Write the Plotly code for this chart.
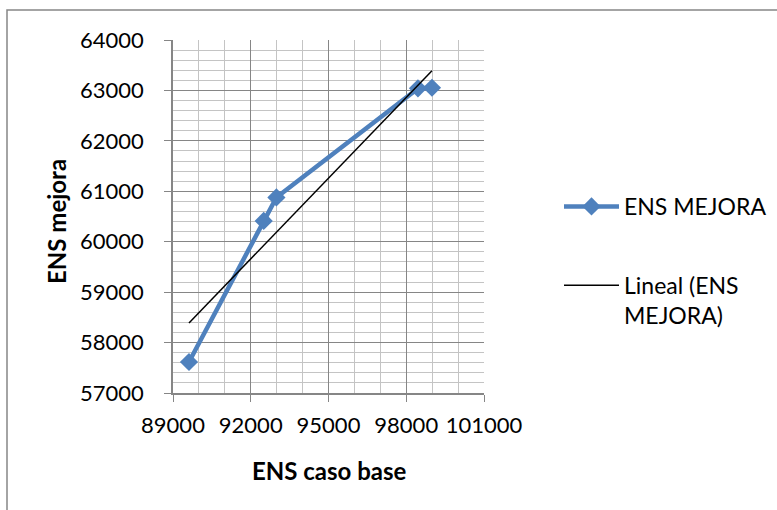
import numpy as np
import plotly.graph_objects as go

# ENS values: base case vs. improvement scenario
ens_caso_base = [89617, 92500, 92990, 98452, 98992]
ens_mejora = [57615, 60413, 60878, 63041, 63053]

x_ticks = [89000, 92000, 95000, 98000, 101000]
y_ticks = [57000, 58000, 59000, 60000, 61000, 62000, 63000, 64000]

serie_nombre = "ENS MEJORA"
tendencia_nombre = "Lineal (ENS<br>MEJORA)"

# least-squares linear trend over the series
pend, orig = np.polyfit(ens_caso_base, ens_mejora, 1)
x_tend = [min(ens_caso_base), max(ens_caso_base)]
y_tend = [pend * v + orig for v in x_tend]

W, H = 777, 510
ML, MR, MT, MB = 173, 293, 40, 117
PW, PH = W - ML - MR, H - MT - MB

def px_x(p):
    return (p - ML) / PW

def px_y(p):
    return (H - MB - p) / PH

AZUL = "#4F81BD"
FONT = "Lato"
GRID_MAJ = "#868686"
GRID_MIN = "#C4C4C4"

fig = go.Figure()
fig.add_trace(go.Scatter(
    x=ens_caso_base, y=ens_mejora, mode="lines+markers", name=serie_nombre,
    line=dict(color=AZUL, width=4.5),
    marker=dict(symbol="diamond", size=14, color=AZUL),
    legendgroup="a",
))
fig.add_trace(go.Scatter(
    x=x_tend, y=y_tend, mode="lines", name=tendencia_nombre,
    line=dict(color="black", width=1.5),
    legendgroup="b",
))

fig.update_xaxes(
    range=[x_ticks[0], x_ticks[-1]], tickvals=x_ticks,
    ticktext=[str(v) for v in x_ticks],
    showgrid=True, gridcolor=GRID_MAJ, gridwidth=1,
    minor=dict(dtick=1000, showgrid=True, gridcolor=GRID_MIN, gridwidth=1),
    showline=True, linecolor=GRID_MAJ, linewidth=1.5,
    ticks="outside", ticklen=7, tickcolor=GRID_MAJ,
    ticklabelstandoff=5,
    tickfont=dict(family=FONT, size=22, color="black"),
    zeroline=False, automargin=False,
)
fig.update_yaxes(
    range=[y_ticks[0], y_ticks[-1]], tickvals=y_ticks,
    ticktext=[str(v) for v in y_ticks],
    showgrid=True, gridcolor=GRID_MAJ, gridwidth=1,
    minor=dict(dtick=200, showgrid=True, gridcolor=GRID_MIN, gridwidth=1),
    showline=True, linecolor=GRID_MAJ, linewidth=1.5,
    ticks="outside", ticklen=7, tickcolor=GRID_MAJ,
    ticklabelstandoff=16,
    tickfont=dict(family=FONT, size=22, color="black"),
    zeroline=False, automargin=False,
)

fig.add_annotation(
    text="<b>ENS caso base</b>", xref="paper", yref="paper",
    x=px_x(329), y=px_y(470), showarrow=False,
    font=dict(family=FONT, size=24, color="black"),
    xanchor="center", yanchor="middle",
)
fig.add_annotation(
    text="<b>ENS mejora</b>", xref="paper", yref="paper",
    x=px_x(56), y=px_y(222), showarrow=False, textangle=-90,
    font=dict(family=FONT, size=24, color="black"),
    xanchor="center", yanchor="middle",
)

# outer chart frame
fig.add_shape(
    type="rect", xref="paper", yref="paper",
    x0=px_x(7), x1=px_x(800), y0=px_y(530), y1=px_y(10),
    line=dict(color=GRID_MAJ, width=1.5), fillcolor="rgba(0,0,0,0)",
    layer="below",
)

fig.update_layout(
    width=W, height=H,
    margin=dict(l=ML, r=MR, t=MT, b=MB, pad=0, autoexpand=False),
    paper_bgcolor="white", plot_bgcolor="white",
    showlegend=True,
    legend=dict(
        x=px_x(559), y=px_y(185), xanchor="left", yanchor="top",
        font=dict(family=FONT, size=23, color="black"),
        itemwidth=55, tracegroupgap=46, valign="top",
        bgcolor="rgba(0,0,0,0)",
    ),
)

fig.write_html("out.html")
